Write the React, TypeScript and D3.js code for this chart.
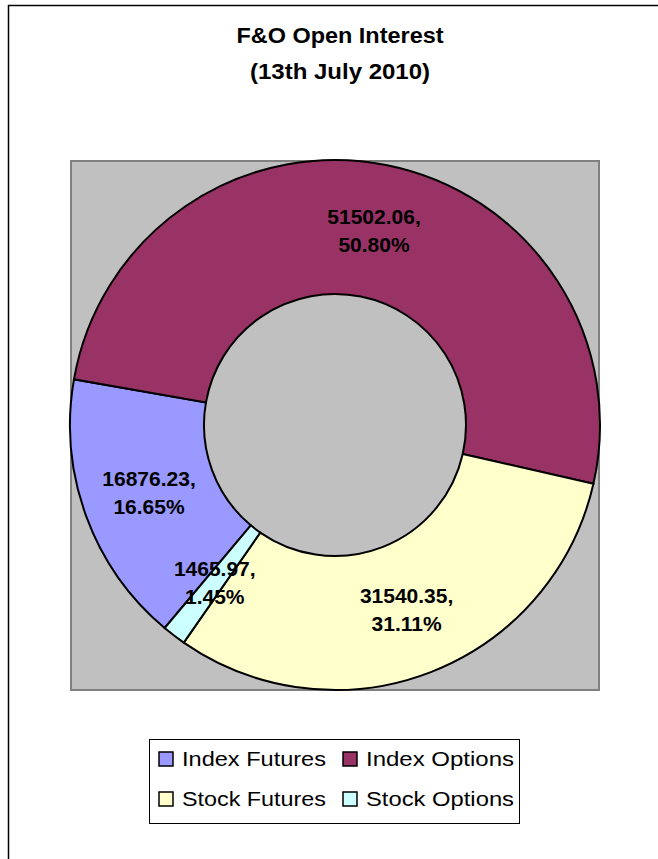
import React from 'react'
import * as d3 from 'd3'

// F&O open interest, 13 July 2010
const categories = ['Index Futures', 'Index Options', 'Stock Futures', 'Stock Options']
const values = [16876.23, 51502.06, 31540.35, 1465.97]
const colors = ['#9999FF', '#993366', '#FFFFCC', '#CCFFFF']
const titleLines = ['F&O Open Interest', '(13th July 2010)']

const W = 658
const H = 859
const FONT = "'Liberation Sans', Arial, sans-serif"

export default function App () {
  const cx = 335
  const cy = 425
  const outerR = 265
  const innerR = 131

  const total = d3.sum(values)
  const start = (220 * Math.PI) / 180

  const pie = d3.pie<number>()
    .sort(null)
    .startAngle(start)
    .endAngle(start + 2 * Math.PI)

  const arcs = pie(values)

  const arc = d3.arc<d3.PieArcDatum<number>>()
    .innerRadius(innerR)
    .outerRadius(outerR)

  const fmt = d3.format('.2f')

  // legend grid: 2 columns x 2 rows
  const legendX = d3.scaleOrdinal<number, number>().domain([0, 1]).range([159, 343])
  const legendY = d3.scaleOrdinal<number, number>().domain([0, 1]).range([759, 799])

  return (
    <svg width={W} height={H} style={{ position: 'absolute', left: 0, top: 0 }}>
      <rect x={0} y={0} width={W} height={H} fill="#fff" />
      {/* chart frame, runs off the right and bottom of the page */}
      <rect x={8.5} y={5.5} width={W + 20} height={H + 20} fill="none" stroke="#000" strokeWidth={1.5} />

      {titleLines.map((t, i) => (
        <text key={t} x={340} y={35 + i * 36} textAnchor="middle" dominantBaseline="central"
          fontFamily={FONT} fontWeight="bold" fontSize={22} textLength={i === 0 ? 207 : 180}
          lengthAdjust="spacingAndGlyphs">
          {t}
        </text>
      ))}

      {/* plot area */}
      <rect x={71} y={161} width={528} height={529} fill="#C0C0C0" stroke="#808080" strokeWidth={2} />

      <g transform={`translate(${cx},${cy})`}>
        {arcs.map((a, i) => (
          <path key={categories[i]} d={arc(a) || ''} fill={colors[i]} stroke="#000" strokeWidth={2} />
        ))}
        {arcs.map((a, i) => {
          const [lx, ly] = arc.centroid(a)
          return (
            <text key={'l' + i} x={lx} textAnchor="middle" fontFamily={FONT} fontWeight="bold" fontSize={21}>
              <tspan x={lx} y={ly - 14} dominantBaseline="central">{fmt(values[i])},</tspan>
              <tspan x={lx} y={ly + 14} dominantBaseline="central">{fmt((values[i] / total) * 100)}%</tspan>
            </text>
          )
        })}
      </g>

      {/* legend */}
      <rect x={149.5} y={739.5} width={370} height={84} fill="#fff" stroke="#000" strokeWidth={1} />
      {categories.map((c, i) => {
        const col = i % 2
        const row = Math.floor(i / 2)
        const x = legendX(col)
        const y = legendY(row)
        return (
          <g key={c}>
            <rect x={x} y={y - 7} width={14} height={14} fill={colors[i]} stroke="#000" strokeWidth={1.5} />
            <text x={x + 23} y={y} dominantBaseline="central" fontFamily={FONT} fontSize={20}
              textLength={col === 0 ? 144 : 148} lengthAdjust="spacingAndGlyphs">
              {c}
            </text>
          </g>
        )
      })}
    </svg>
  )
}
